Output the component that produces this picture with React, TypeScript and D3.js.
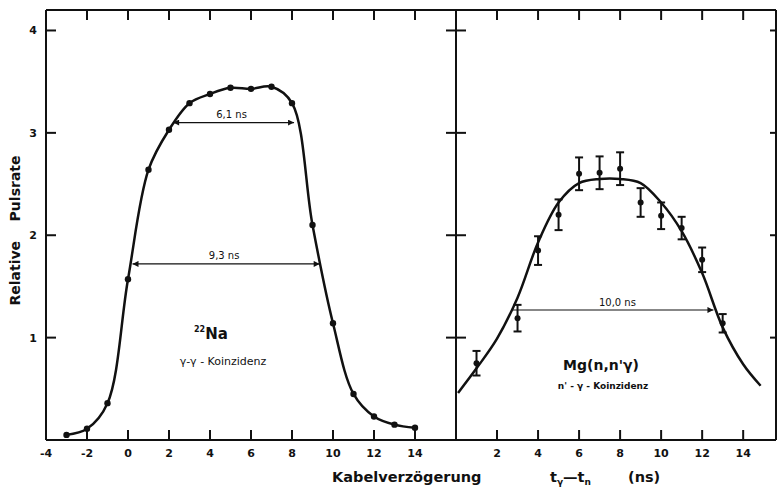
import React from "react";
import * as d3 from "d3";

// ---- data ----
const naX = [-3, -2, -1, 0, 1, 2, 3, 4, 5, 6, 7, 8, 9, 10, 11, 12, 13, 14];
const naY = [0.05, 0.11, 0.36, 1.57, 2.64, 3.03, 3.29, 3.38, 3.44, 3.43, 3.45, 3.29, 2.1, 1.14, 0.45, 0.23, 0.15, 0.12];

const mgX = [1, 3, 4, 5, 6, 7, 8, 9, 10, 11, 12, 13];
const mgY = [0.75, 1.19, 1.85, 2.2, 2.6, 2.61, 2.65, 2.32, 2.19, 2.07, 1.76, 1.14];
const mgErr = [0.12, 0.13, 0.14, 0.15, 0.16, 0.16, 0.16, 0.14, 0.13, 0.11, 0.12, 0.09];

const mgFitX = [0.1, 1, 2, 3, 4, 5, 6, 7, 8, 9, 10, 11, 12, 13, 14, 14.85];
const mgFitY = [0.46, 0.7, 0.99, 1.39, 1.93, 2.32, 2.51, 2.55, 2.55, 2.51, 2.32, 2.04, 1.63, 1.1, 0.74, 0.53];

const leftTicksX = [-4, -2, 0, 2, 4, 6, 8, 10, 12, 14];
const rightTicksX = [2, 4, 6, 8, 10, 12, 14];
const ticksY = [1, 2, 3, 4];

const naWidths = [
  { label: "6,1 ns", x1: 2.2, x2: 8.1, y: 3.1 },
  { label: "9,3 ns", x1: 0.22, x2: 9.35, y: 1.72 },
];
const mgWidths = [{ label: "10,0 ns", x1: 2.7, x2: 12.55, y: 1.27 }];

const FONT = "'DejaVu Sans', sans-serif";

export default function App() {
  const W = 777, H = 498;
  const xL = d3.scaleLinear().domain([-4, 16]).range([46, 456]);
  const xR = d3.scaleLinear().domain([0, 15.6]).range([456, 776]);
  const y = d3.scaleLinear().domain([0, 4.2]).range([440, 10]);

  const naLine = d3
    .line<number>()
    .x((_, i) => xL(naX[i]))
    .y((d) => y(d))
    .curve(d3.curveCatmullRom.alpha(0.5));
  const mgLine = d3
    .line<number>()
    .x((_, i) => xR(mgFitX[i]))
    .y((d) => y(d))
    .curve(d3.curveCatmullRom.alpha(0.5));

  const top = y(4.2), bot = y(0);
  const divX = xL(16);
  const tl = 10;

  return (
    <svg
      width={W}
      height={H}
      style={{ position: "absolute", left: 0, top: 0, background: "#fff" }}
      fontFamily={FONT}
    >
      <defs>
        <marker id="ah" viewBox="0 0 10 10" refX="10" refY="5" markerWidth="7" markerHeight="6" orient="auto-start-reverse" markerUnits="userSpaceOnUse">
          <path d="M0,0 L10,5 L0,10 z" fill="#111" />
        </marker>
      </defs>
      <rect x={0} y={0} width={W} height={H} fill="#fff" />

      {/* frame */}
      <g stroke="#111" strokeWidth={2} fill="none">
        <line x1={xL(-4)} x2={776} y1={top} y2={top} />
        <line x1={xL(-4)} x2={776} y1={bot} y2={bot} />
        <line x1={xL(-4)} x2={xL(-4)} y1={top} y2={bot} />
        <line x1={divX} x2={divX} y1={top} y2={bot} />
        <line x1={776} x2={776} y1={top} y2={bot} />
      </g>

      {/* ticks */}
      <g stroke="#111" strokeWidth={2}>
        {leftTicksX.filter((t) => t > -4).map((t) => (
          <g key={"lt" + t}>
            <line x1={xL(t)} x2={xL(t)} y1={top} y2={top + tl} />
            <line x1={xL(t)} x2={xL(t)} y1={bot} y2={bot - tl} />
          </g>
        ))}
        {rightTicksX.map((t) => (
          <g key={"rt" + t}>
            <line x1={xR(t)} x2={xR(t)} y1={top} y2={top + tl} />
            <line x1={xR(t)} x2={xR(t)} y1={bot} y2={bot - tl} />
          </g>
        ))}
        {ticksY.map((t) => (
          <g key={"yt" + t}>
            <line x1={xL(-4)} x2={xL(-4) + tl} y1={y(t)} y2={y(t)} />
            <line x1={divX - tl} x2={divX + tl} y1={y(t)} y2={y(t)} />
            <line x1={776 - 6} x2={776} y1={y(t)} y2={y(t)} />
          </g>
        ))}
      </g>

      {/* tick labels */}
      <g fontSize={11} fontWeight="bold" fill="#111" textAnchor="middle">
        {leftTicksX.map((t) => (
          <text key={"lx" + t} x={xL(t)} y={457}>{t < 0 ? "-" + Math.abs(t) : t}</text>
        ))}
        {rightTicksX.map((t) => (
          <text key={"rx" + t} x={xR(t)} y={457}>{t}</text>
        ))}
        {ticksY.map((t) => (
          <text key={"ly" + t} x={33} y={y(t)} dy="0.36em">{t}</text>
        ))}
      </g>

      {/* axis titles */}
      <text
        transform={`translate(20, ${(153 + 308) / 2}) rotate(-90)`}
        textAnchor="middle"
        fontSize={14}
        fontWeight="bold"
        fill="#111"
        xmlSpace="preserve"
      >
        {"Relative    Pulsrate"}
      </text>
      <g fontSize={14.5} fontWeight="bold" fill="#111">
        <text x={332} y={482}>Kabelverzögerung</text>
        <text x={550} y={482}>
          t<tspan fontSize={9} dy={3}>γ</tspan>
          <tspan dy={-3}>—t</tspan>
          <tspan fontSize={9} dy={3}>n</tspan>
        </text>
        <text x={628} y={482}>(ns)</text>
      </g>

      {/* Na curve and points */}
      <path d={naLine(naY) || ""} fill="none" stroke="#111" strokeWidth={2.5} />
      {naY.map((v, i) => (
        <circle key={"na" + i} cx={xL(naX[i])} cy={y(v)} r={3.2} fill="#111" />
      ))}

      {/* Mg fit, points, error bars */}
      <path d={mgLine(mgFitY) || ""} fill="none" stroke="#111" strokeWidth={2.5} />
      <g stroke="#111" strokeWidth={2}>
        {mgY.map((v, i) => {
          const cx = xR(mgX[i]);
          const y1 = y(v + mgErr[i]);
          const y2 = y(v - mgErr[i]);
          return (
            <g key={"mg" + i}>
              <line x1={cx} x2={cx} y1={y1} y2={y2} />
              <line x1={cx - 4} x2={cx + 4} y1={y1} y2={y1} />
              <line x1={cx - 4} x2={cx + 4} y1={y2} y2={y2} />
              <circle cx={cx} cy={y(v)} r={3} fill="#111" stroke="none" />
            </g>
          );
        })}
      </g>

      {/* width arrows */}
      {naWidths.map((w) => (
        <g key={w.label}>
          <line x1={xL(w.x1)} x2={xL(w.x2)} y1={y(w.y)} y2={y(w.y)} stroke="#111" strokeWidth={1.2} markerStart="url(#ah)" markerEnd="url(#ah)" />
          <text x={(xL(w.x1) + xL(w.x2)) / 2 - 2} y={y(w.y) - 5} fontSize={10} textAnchor="middle" fill="#111">{w.label}</text>
        </g>
      ))}
      {mgWidths.map((w) => (
        <g key={w.label}>
          <line x1={xR(w.x1)} x2={xR(w.x2)} y1={y(w.y)} y2={y(w.y)} stroke="#111" strokeWidth={1.2} markerEnd="url(#ah)" />
          <text x={(xR(w.x1) + xR(w.x2)) / 2 + 5} y={y(w.y) - 4} fontSize={10} textAnchor="middle" fill="#111">{w.label}</text>
        </g>
      ))}

      {/* panel labels */}
      <g fill="#111" fontWeight="bold">
        <text x={194} y={339} fontSize={15}>
          <tspan fontSize={8} dy={-7}>22</tspan>
          <tspan dy={7}>Na</tspan>
        </text>
        <text x={223} y={365} fontSize={11} textAnchor="middle" fontWeight="normal">γ-γ - Koinzidenz</text>
        <text x={601} y={370} fontSize={14} textAnchor="middle">Mg(n,n'γ)</text>
        <text x={603} y={389} fontSize={9} textAnchor="middle">n' - γ - Koinzidenz</text>
      </g>
    </svg>
  );
}
